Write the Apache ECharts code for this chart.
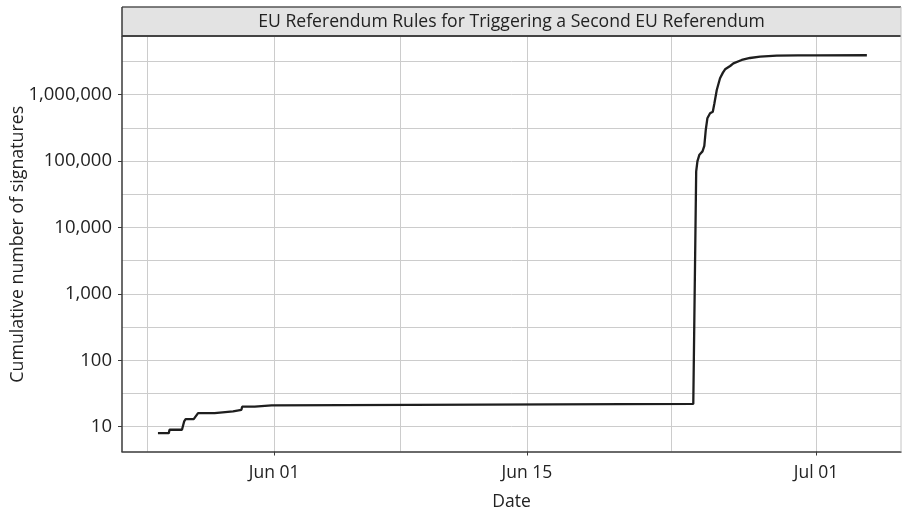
<!DOCTYPE html>
<html>
<head>
<meta charset="utf-8">
<script src="https://cdn.jsdelivr.net/npm/echarts@6/dist/echarts.min.js"></script>
<style>
  html, body { margin: 0; padding: 0; background: #ffffff; }
  #chart { width: 902px; height: 509px; }
</style>
</head>
<body>
<div id="chart"></div>
<script>
// Petition "EU Referendum Rules for Triggering a Second EU Referendum":
// cumulative signature counts over time.
const panelTitle = 'EU Referendum Rules for Triggering a Second EU Referendum';

const times = [
  '2016-05-25 13:41', '2016-05-26 04:05', '2016-05-26 05:05',
  '2016-05-26 21:36', '2016-05-27 00:30', '2016-05-27 02:30',
  '2016-05-27 13:12', '2016-05-27 18:58',
  '2016-05-28 17:02', '2016-05-28 18:02',
  '2016-05-29 17:31', '2016-05-29 19:41',
  '2016-05-30 04:34', '2016-05-30 05:34',
  '2016-05-30 22:19', '2016-05-30 23:19',
  '2016-05-31 20:38', '2016-05-31 21:38',
  '2016-06-24 05:02', '2016-06-24 08:53', '2016-06-24 10:34',
  '2016-06-24 13:12', '2016-06-24 17:17', '2016-06-24 19:41',
  '2016-06-24 21:36', '2016-06-24 23:45', '2016-06-25 03:20',
  '2016-06-25 06:58', '2016-06-25 09:07', '2016-06-25 12:14',
  '2016-06-25 16:34', '2016-06-25 20:24', '2016-06-25 23:17',
  '2016-06-26 06:00', '2016-06-26 10:19', '2016-06-26 21:22',
  '2016-06-27 08:24', '2016-06-27 21:50', '2016-06-28 19:55',
  '2016-06-30 00:00', '2016-07-01 01:12', '2016-07-03 19:41'
];
const signatures = [
  8, 8, 9,
  9, 12, 13,
  13, 16,
  16, 17,
  17, 18,
  18, 20,
  20, 21,
  21, 22,
  22, 70000, 100000,
  125000, 140000, 170000,
  294000, 441000, 525000,
  555000, 742000, 1177000,
  1766000, 2150000, 2414000,
  2706000, 2970000, 3333000,
  3572000, 3735000, 3866000,
  3900000, 3918000, 3930000
];

// Date axis: labelled breaks and the extra grid breaks between them
const dateRange = ['2016-05-23 13:55', '2016-07-05 17:02'];
const dateLabels = ['2016-06-01', '2016-06-15', '2016-07-01'];
const dateGrid = ['2016-05-25', '2016-06-01', '2016-06-08', '2016-06-15', '2016-06-23', '2016-07-01'];

// Log count axis: labelled decades plus half-decade grid breaks
const countRange = [4.233, 7396000];
const countLabels = [10, 100, 1000, 10000, 100000, 1000000];
const countGrid = [10, 31.62, 100, 316.2, 1000, 3162, 10000, 31623, 100000, 316228, 1000000, 3162278];

const FONT = '"Open Sans", "Noto Sans", sans-serif';
const INK = '#222222';
const GRID = '#cccccc';
const AXIS = '#3a3a3a';

function withCommas(v) {
  return String(Math.round(v)).replace(/\B(?=(\d{3})+(?!\d))/g, ',');
}

const chart = echarts.init(document.getElementById('chart'), null, { renderer: 'canvas' });

const plotLeft = 122, plotRight = 901, stripTop = 7, stripBottom = 37, plotBottom = 451.5;

chart.setOption({
  animation: false,
  backgroundColor: '#ffffff',
  textStyle: { fontFamily: FONT },
  grid: {
    left: plotLeft, right: 902 - plotRight, top: stripBottom, bottom: 509 - plotBottom,
    containLabel: false, outerBoundsMode: 'none'
  },
  graphic: [
    { type: 'rect', silent: true, z: 0,
      shape: { x: plotLeft, y: stripTop, width: plotRight - plotLeft, height: stripBottom - stripTop },
      style: { fill: '#e3e3e3' } },
    { type: 'line', silent: true, z: 5,
      shape: { x1: plotLeft, y1: stripTop, x2: plotRight, y2: stripTop },
      style: { stroke: '#555555', lineWidth: 1.6 } },
    { type: 'line', silent: true, z: 5,
      shape: { x1: plotLeft, y1: stripBottom - 1, x2: plotRight, y2: stripBottom - 1 },
      style: { stroke: '#444444', lineWidth: 2 } },
    { type: 'line', silent: true, z: 5,
      shape: { x1: plotLeft, y1: stripTop, x2: plotLeft, y2: stripBottom },
      style: { stroke: AXIS, lineWidth: 1.5 } },
    { type: 'line', silent: true, z: 5,
      shape: { x1: plotRight, y1: stripTop, x2: plotRight, y2: plotBottom },
      style: { stroke: '#c4c4c4', lineWidth: 1 } },
    { type: 'text', silent: true, z: 6,
      x: (plotLeft + plotRight) / 2, y: (stripTop + stripBottom) / 2,
      style: { text: panelTitle, font: '17.6px ' + FONT, fill: INK, align: 'center', verticalAlign: 'middle' } }
  ],
  xAxis: [
    {
      type: 'time', min: dateRange[0], max: dateRange[1], position: 'bottom',
      axisLine: { show: true, lineStyle: { color: AXIS, width: 1.5 } },
      axisTick: { show: false, customValues: dateGrid },
      axisLabel: { show: false },
      splitLine: { show: true, lineStyle: { color: GRID, width: 1 } }
    },
    {
      type: 'time', min: dateRange[0], max: dateRange[1], position: 'bottom',
      name: 'Date', nameLocation: 'middle', nameGap: 41.5, nameMoveOverlap: false,
      nameTextStyle: { fontSize: 17.5, color: INK, fontFamily: FONT },
      axisLine: { show: false },
      axisTick: { show: true, length: 4, customValues: dateLabels, lineStyle: { color: AXIS, width: 1 } },
      axisLabel: { show: true, customValues: dateLabels, formatter: '{MMM} {dd}', margin: 13,
        fontSize: 17.5, color: INK, fontFamily: FONT },
      splitLine: { show: false }
    }
  ],
  yAxis: [
    {
      type: 'log', logBase: 10, min: countRange[0], max: countRange[1], position: 'left',
      axisLine: { show: true, lineStyle: { color: AXIS, width: 1.5 } },
      axisTick: { show: false, customValues: countGrid },
      axisLabel: { show: false },
      splitLine: { show: true, lineStyle: { color: GRID, width: 1 } }
    },
    {
      type: 'log', logBase: 10, min: countRange[0], max: countRange[1], position: 'left',
      name: 'Cumulative number of signatures', nameLocation: 'middle', nameGap: 95, nameMoveOverlap: false,
      nameTextStyle: { fontSize: 17.8, color: INK, fontFamily: FONT },
      axisLine: { show: false },
      axisTick: { show: true, length: 4, customValues: countLabels, lineStyle: { color: AXIS, width: 1 } },
      axisLabel: { show: true, customValues: countLabels, formatter: withCommas, margin: 10,
        fontSize: 18.5, color: INK, fontFamily: FONT },
      splitLine: { show: false }
    }
  ],
  series: [
    {
      type: 'line', xAxisIndex: 0, yAxisIndex: 0,
      data: times.map((t, i) => [t, signatures[i]]),
      showSymbol: false, symbol: 'none', smooth: false,
      lineStyle: { color: '#1e1e1e', width: 2.3 },
      z: 3
    }
  ]
});
</script>
</body>
</html>
